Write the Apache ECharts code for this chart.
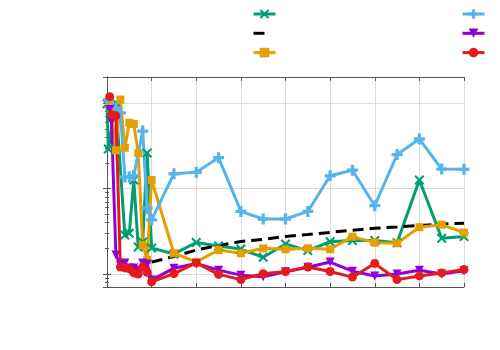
<!DOCTYPE html>
<html>
<head>
<meta charset="utf-8">
<script src="https://cdn.jsdelivr.net/npm/echarts@6/dist/echarts.min.js"></script>
<style>
  html, body { margin: 0; padding: 0; background: #fff; }
  #chart { width: 500px; height: 350px; }
</style>
</head>
<body>
<div id="chart"></div>
<script>
// x positions shared by every series from 10 on
var xTail = [10, 15, 20, 25, 30, 35, 40, 45, 50, 55, 60, 65, 70, 75, 80];

// the crowded start of each series (x values before 10)
var greenHeadX = [0, 0.3, 2, 4, 5, 6, 7, 8, 9];
var orangeHeadX = [0.5, 1, 2, 3, 4, 5, 6, 7, 8, 9];
var blueHeadX = [0.3, 2, 3, 4, 5, 6, 8, 9];
var purpleHeadX = [0.6, 1, 2, 3, 4, 5, 6, 7, 8, 9];
var redHeadX = [0.6, 1, 2, 3, 4, 5, 6, 7, 8, 9];

// y values (head first, then the xTail part)
var greenY = [98, 29, 101, 2.87, 3.0, 12.6, 2.07, 2.37, 26,
  2.02, 1.72, 2.34, 2.13, 1.96, 1.57, 2.25, 1.88, 2.39, 2.47, 2.46, 2.33, 12.6, 2.62, 2.74];
var blackY = [1.38, 1.60, 1.91, 2.16, 2.40, 2.55, 2.75, 2.9, 3.07, 3.25, 3.43, 3.55, 3.70, 3.83, 3.94];
var orangeY = [98, 79, 28, 110, 30, 59, 57, 26, 2.19, 1.46,
  12.6, 1.75, 1.39, 1.91, 1.75, 2.0, 1.95, 2.0, 1.95, 2.74, 2.33, 2.29, 3.53, 3.78, 3.05];
var blueY = [110, 88, 77, 13.7, 13.7, 14.1, 47, 5.9,
  4.3, 14.9, 15.5, 23, 5.4, 4.4, 4.4, 5.4, 14.1, 16.4, 6.3, 25, 38, 16.9, 16.8];
var purpleY = [84, 61, 1.67, 1.27, 1.35, 1.18, 1.18, 1.11, 1.35, 1.31,
  0.85, 1.17, 1.33, 1.11, 0.97, 0.93, 1.06, 1.2, 1.38, 1.08, 0.95, 1.0, 1.11, 1.0, 1.09];
var redY = [119, 73, 71, 1.21, 1.18, 1.15, 1.03, 1.0, 1.21, 1.05,
  0.81, 1.01, 1.35, 0.99, 0.86, 1.01, 1.07, 1.21, 1.07, 0.92, 1.33, 0.86, 0.95, 1.03, 1.13];

function pairs(xs, ys) {
  return xs.map(function (x, i) { return [x, ys[i]]; });
}

var plusPath = 'path://M3.5,0 H6.5 V3.5 H10 V6.5 H6.5 V10 H3.5 V6.5 H0 V3.5 H3.5 Z';
var xPath = 'path://M0,1.5 L1.5,0 L5,3.5 L8.5,0 L10,1.5 L6.5,5 L10,8.5 L8.5,10 L5,6.5 L1.5,10 L0,8.5 L3.5,5 Z';

function lineSeries(name, color, data, symbol, size, extra) {
  var s = {
    name: name,
    type: 'line',
    data: data,
    symbol: symbol,
    symbolSize: size,
    showAllSymbol: true,
    lineStyle: { color: color, width: 3 },
    itemStyle: { color: color },
    emphasis: { disabled: true },
    animation: false
  };
  for (var k in extra) s[k] = extra[k];
  return s;
}

var chart = echarts.init(document.getElementById('chart'));

var axisLine = { show: true, lineStyle: { color: '#555', width: 1 } };
var grid = { show: true, lineStyle: { color: '#dcdcdc', width: 1 } };
var noText = function () { return ''; };
var legendLine = { width: 3 };

var option = {
  backgroundColor: '#fff',
  animation: false,
  grid: { left: 107, right: 36, top: 77, bottom: 63 },
  legend: [
    {
      left: 252, top: 8, orient: 'vertical', padding: 0,
      itemWidth: 22, itemHeight: 12, itemGap: 8.5,
      formatter: noText,
      data: [
        { name: 'g', lineStyle: legendLine },
        { name: 'k', itemStyle: { opacity: 0 }, lineStyle: { type: [11, 30], width: 3 } },
        { name: 'o', lineStyle: legendLine }
      ]
    },
    {
      left: 461, top: 8, orient: 'vertical', padding: 0,
      itemWidth: 22, itemHeight: 12, itemGap: 8.5,
      formatter: noText,
      data: [
        { name: 'b', lineStyle: legendLine },
        { name: 'p', lineStyle: legendLine },
        { name: 'r', lineStyle: legendLine }
      ]
    }
  ],
  xAxis: [
    {
      type: 'value', min: 0, max: 80, interval: 10,
      axisLine: axisLine,
      axisTick: { show: true, inside: true, length: 4, lineStyle: { color: '#555' } },
      axisLabel: { show: false },
      splitLine: grid
    },
    {
      type: 'value', position: 'top', min: 0, max: 80, interval: 10,
      axisLine: axisLine,
      axisTick: { show: true, inside: true, length: 4, lineStyle: { color: '#555' } },
      axisLabel: { show: false },
      splitLine: { show: false }
    }
  ],
  yAxis: [
    {
      type: 'log', logBase: 10, min: 0.705, max: 202,
      axisLine: axisLine,
      axisTick: { show: true, inside: true, length: 4, lineStyle: { color: '#555' } },
      minorTick: { show: true, splitNumber: 9, length: 2, lineStyle: { color: '#555' } },
      axisLabel: { show: false },
      splitLine: grid
    },
    {
      type: 'log', logBase: 10, min: 0.705, max: 202, position: 'right',
      axisLine: axisLine,
      axisTick: { show: true, inside: true, length: 4, lineStyle: { color: '#555' } },
      minorTick: { show: true, splitNumber: 9, length: 2, lineStyle: { color: '#555' } },
      axisLabel: { show: false },
      splitLine: { show: false }
    }
  ],
  series: [
    lineSeries('g', '#009E73', pairs(greenHeadX.concat(xTail), greenY), xPath, 10, {}),
    lineSeries('k', '#000000', pairs(xTail, blackY), 'none', 0, {
      lineStyle: { color: '#000', width: 3, type: [11, 6] }
    }),
    lineSeries('o', '#E69F00', pairs(orangeHeadX.concat(xTail), orangeY), 'rect', 8, {}),
    lineSeries('b', '#56B4E9', pairs(blueHeadX.concat(xTail), blueY), plusPath, 11, {}),
    lineSeries('p', '#9400D3', pairs(purpleHeadX.concat(xTail), purpleY), 'triangle', 9, { symbolRotate: 180 }),
    lineSeries('r', '#E41A1C', pairs(redHeadX.concat(xTail), redY), 'circle', 9, {})
  ]
};

chart.setOption(option);
</script>
</body>
</html>
